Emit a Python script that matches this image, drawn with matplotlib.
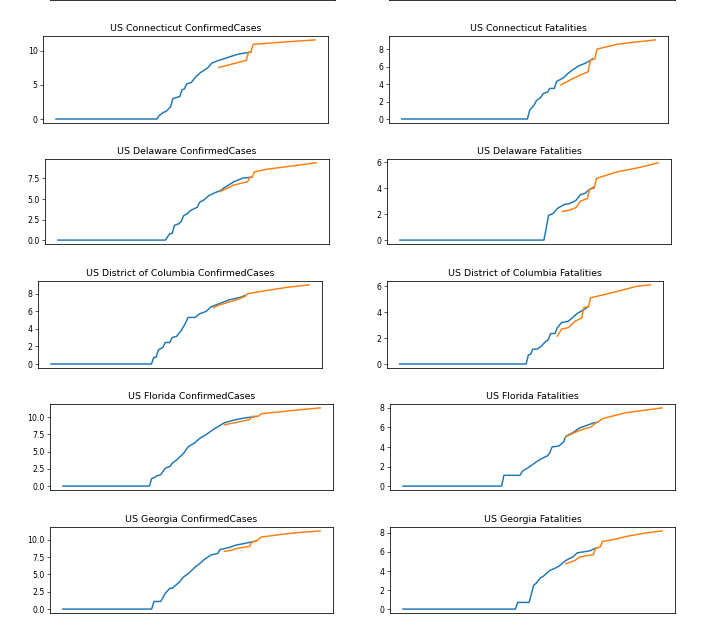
import matplotlib.pyplot as plt

W, H = 701, 631
DPI = 56

# day index -> log1p values (train = blue, prediction = orange)
ct_cases_days = [0, 44, 45, 47, 48, 50, 51, 53, 54, 55, 56, 57, 59, 61, 63, 66, 68, 71, 73, 76, 80, 85]
ct_cases = [0, 0, 0.5, 1.0, 1.1, 1.8, 3.0, 3.2, 3.3, 4.3, 4.4, 5.15, 5.35, 6.2, 6.8, 7.45, 8.2, 8.6, 8.8, 9.15, 9.55, 9.8]
ct_cases_pred_days = [71, 83, 84, 85, 86, 92, 100, 113]
ct_cases_pred = [7.55, 8.6, 9.8, 9.85, 10.95, 11.1, 11.3, 11.6]

ct_fat_days = [0, 56, 57, 59, 60, 62, 63, 65, 66, 68, 69, 72, 74, 76, 79, 82, 84, 85]
ct_fat = [0, 0, 1.0, 1.6, 2.1, 2.5, 2.9, 3.1, 3.5, 3.5, 4.3, 4.7, 5.2, 5.6, 6.1, 6.4, 6.7, 6.9]
ct_fat_pred_days = [71, 76, 82, 83, 84, 85, 86, 87, 96, 104, 113]
ct_fat_pred = [3.9, 4.6, 5.3, 5.4, 6.7, 6.8, 6.85, 8.0, 8.55, 8.8, 9.05]

de_cases_days = [0, 47, 49, 50, 51, 53, 54, 55, 57, 58, 61, 62, 64, 66, 69, 71, 73, 77, 81, 85]
de_cases = [0, 0, 0.8, 0.8, 1.8, 2.0, 2.3, 2.95, 3.3, 3.6, 4.0, 4.6, 4.9, 5.4, 5.8, 6.0, 6.4, 7.1, 7.55, 7.65]
de_cases_pred_days = [71, 77, 83, 84, 85, 86, 91, 102, 113]
de_cases_pred = [5.9, 6.7, 7.1, 7.65, 7.65, 8.3, 8.6, 9.0, 9.4]

de_fat_days = [0, 63, 64, 65, 67, 69, 72, 74, 77, 79, 81, 83, 85]
de_fat = [0, 0, 0.9, 1.9, 2.05, 2.45, 2.75, 2.8, 3.05, 3.5, 3.6, 3.9, 4.1]
de_fat_pred_days = [71, 74, 77, 79, 82, 83, 85, 86, 95, 105, 113]
de_fat_pred = [2.2, 2.3, 2.5, 3.0, 3.2, 3.9, 4.0, 4.75, 5.25, 5.6, 5.95]

dc_cases_days = [0, 44, 45, 46, 47, 49, 50, 52, 53, 55, 57, 59, 60, 63, 65, 68, 70, 74, 78, 83, 85]
dc_cases = [0, 0, 0.75, 0.75, 1.6, 1.9, 2.45, 2.45, 3.0, 3.15, 3.8, 4.7, 5.3, 5.3, 5.7, 6.0, 6.5, 6.9, 7.3, 7.6, 7.8]
dc_cases_pred_days = [71, 74, 80, 85, 86, 94, 104, 113]
dc_cases_pred = [6.4, 6.75, 7.2, 7.7, 8.0, 8.35, 8.75, 9.0]

dc_fat_days = [0, 57, 58, 59, 60, 62, 64, 65, 67, 68, 70, 71, 73, 76, 78, 80, 82, 84, 85]
dc_fat = [0, 0, 0.7, 0.75, 1.15, 1.15, 1.4, 1.6, 1.9, 2.35, 2.35, 2.8, 3.2, 3.3, 3.6, 3.9, 4.1, 4.3, 4.45]
dc_fat_pred_days = [71, 73, 76, 79, 82, 83, 85, 86, 98, 107, 113]
dc_fat_pred = [2.15, 2.7, 2.8, 3.3, 3.55, 4.35, 4.4, 5.1, 5.6, 6.0, 6.1]

fl_cases_days = [0, 38, 39, 40, 41, 43, 45, 47, 48, 50, 53, 55, 58, 60, 63, 66, 69, 71, 76, 80, 85]
fl_cases = [0, 0, 1.1, 1.2, 1.45, 1.65, 2.6, 2.85, 3.3, 3.8, 4.75, 5.7, 6.3, 6.9, 7.5, 8.2, 8.8, 9.2, 9.65, 9.9, 10.1]
fl_cases_pred_days = [71, 77, 82, 83, 86, 87, 96, 103, 113]
fl_cases_pred = [8.9, 9.3, 9.65, 10.1, 10.15, 10.5, 10.8, 11.05, 11.35]

fl_fat_days = [0, 43, 44, 51, 52, 55, 58, 60, 63, 64, 65, 68, 70, 71, 74, 77, 80, 83, 85]
fl_fat = [0, 0, 1.1, 1.1, 1.5, 1.95, 2.45, 2.75, 3.1, 3.4, 4.0, 4.1, 4.5, 5.1, 5.45, 5.95, 6.2, 6.45, 6.55]
fl_fat_pred_days = [71, 77, 82, 84, 85, 87, 97, 105, 113]
fl_fat_pred = [5.05, 5.7, 6.05, 6.45, 6.55, 6.9, 7.5, 7.75, 8.0]

ga_cases_days = [0, 39, 40, 43, 45, 47, 48, 51, 53, 55, 58, 60, 62, 65, 68, 69, 73, 76, 80, 85]
ga_cases = [0, 0, 1.1, 1.1, 2.3, 3.0, 3.0, 3.85, 4.65, 5.1, 6.05, 6.55, 7.15, 7.8, 8.05, 8.6, 8.9, 9.25, 9.5, 9.85]
ga_cases_pred_days = [71, 74, 77, 82, 83, 85, 87, 96, 103, 113]
ga_cases_pred = [8.35, 8.5, 8.8, 9.05, 9.7, 9.85, 10.4, 10.8, 11.05, 11.3]

ga_fat_days = [0, 49, 50, 55, 57, 58, 60, 61, 64, 66, 68, 71, 73, 74, 76, 80, 82, 84, 85]
ga_fat = [0, 0, 0.7, 0.7, 2.5, 2.7, 3.3, 3.4, 4.05, 4.25, 4.5, 5.1, 5.35, 5.45, 5.9, 6.05, 6.15, 6.4, 6.45]
ga_fat_pred_days = [71, 75, 77, 80, 83, 84, 86, 87, 93, 97, 105, 113]
ga_fat_pred = [4.75, 5.1, 5.45, 5.6, 5.7, 6.4, 6.5, 7.1, 7.35, 7.6, 7.95, 8.2]

panels = [
    ("US Connecticut ConfirmedCases", ct_cases_days, ct_cases, ct_cases_pred_days, ct_cases_pred, (43, 328, 36, 123)),
    ("US Connecticut Fatalities", ct_fat_days, ct_fat, ct_fat_pred_days, ct_fat_pred, (389, 668, 36, 123)),
    ("US Delaware ConfirmedCases", de_cases_days, de_cases, de_cases_pred_days, de_cases_pred, (45, 329, 159, 244)),
    ("US Delaware Fatalities", de_fat_days, de_fat, de_fat_pred_days, de_fat_pred, (387, 671, 159, 244)),
    ("US District of Columbia ConfirmedCases", dc_cases_days, dc_cases, dc_cases_pred_days, dc_cases_pred, (38, 322, 281, 368)),
    ("US District of Columbia Fatalities", dc_fat_days, dc_fat, dc_fat_pred_days, dc_fat_pred, (387, 663, 281, 368)),
    ("US Florida ConfirmedCases", fl_cases_days, fl_cases, fl_cases_pred_days, fl_cases_pred, (50, 333, 404, 490)),
    ("US Florida Fatalities", fl_fat_days, fl_fat, fl_fat_pred_days, fl_fat_pred, (390, 675, 404, 490)),
    ("US Georgia ConfirmedCases", ga_cases_days, ga_cases, ga_cases_pred_days, ga_cases_pred, (50, 333, 527, 613)),
    ("US Georgia Fatalities", ga_fat_days, ga_fat, ga_fat_pred_days, ga_fat_pred, (390, 675, 527, 613)),
]

plt.rcParams['axes.linewidth'] = 1.0
plt.rcParams['lines.linewidth'] = 1.9


def box(x0, x1, top, bottom):
    # pixel box -> figure fraction
    return [x0 / W, 1 - bottom / H, (x1 - x0) / W, (bottom - top) / H]


fig = plt.figure(figsize=(W / DPI + 0.001, H / DPI + 0.001), dpi=DPI)

# row above, cut off by the crop: only its bottom edge shows
for bx, ylim in [((50, 335, -87, 0.5), (-0.55, 11.5)), ((389, 675, -87, 0.5), (-0.4, 8.5))]:
    ax = fig.add_axes(box(*bx))
    ax.set_ylim(*ylim)
    ax.set_yticks([0])
    ax.set_xticks([])

for title, d_tr, v_tr, d_pr, v_pr, bx in panels:
    ax = fig.add_axes(box(*bx))
    ax.plot(d_tr, v_tr, color='tab:blue')
    ax.plot(d_pr, v_pr, color='tab:orange')
    ax.set_title(title)
    ax.set_xticks([])

fig.savefig('out.png', dpi=DPI, facecolor='white')
